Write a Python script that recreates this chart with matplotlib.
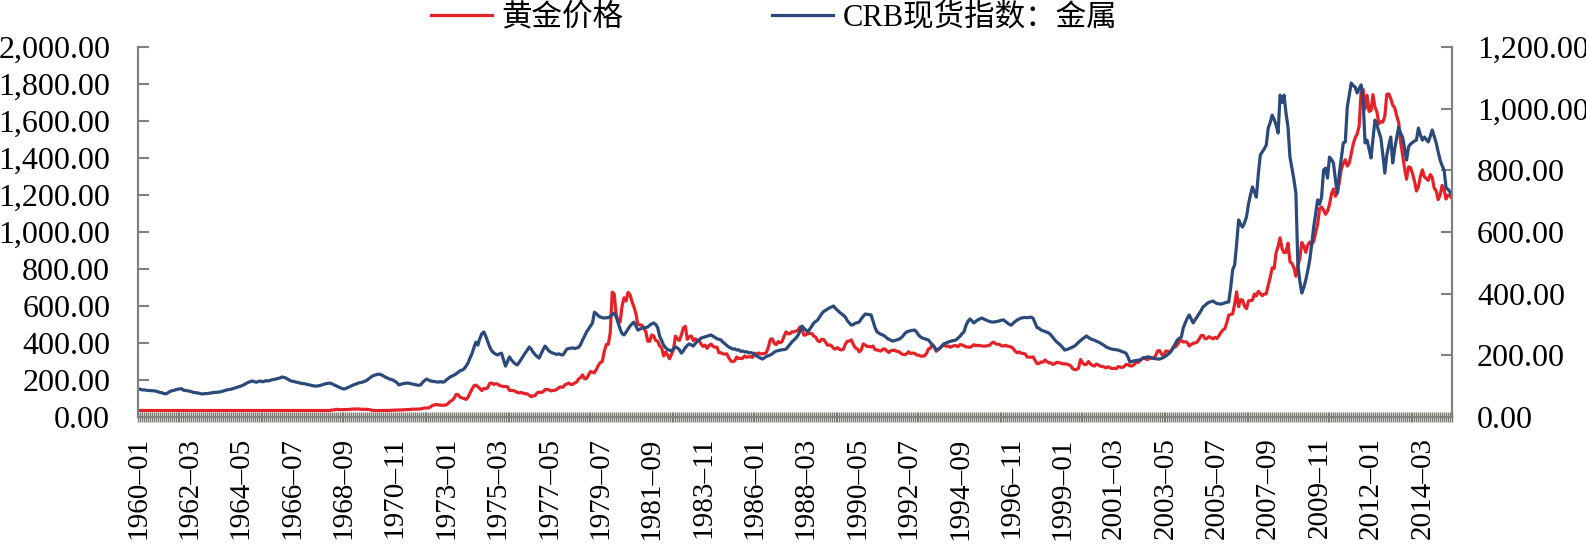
import matplotlib
matplotlib.use("Agg")
import matplotlib.pyplot as plt
import numpy as np
import pandas as pd

# monthly data, 1960-01 .. 2015-06
gold = [
    35.1, 35.1, 35.1, 35.1, 35.1, 35.1, 35.1, 35.2, 35.2, 35.3, 35.3, 35.2,  # 1960
    35.2, 35.2, 35.1, 35.1, 35.1, 35.1, 35.1, 35.1, 35.1, 35.1, 35.1, 35.1,  # 1961
    35.1, 35.1, 35.1, 35.1, 35.1, 35.1, 35.1, 35.1, 35.1, 35.1, 35.1, 35.1,  # 1962
    35.1, 35.1, 35.1, 35.1, 35.1, 35.1, 35.1, 35.1, 35.1, 35.1, 35.1, 35.1,  # 1963
    35.1, 35.1, 35.1, 35.1, 35.1, 35.1, 35.1, 35.1, 35.1, 35.1, 35.1, 35.1,  # 1964
    35.1, 35.1, 35.1, 35.1, 35.1, 35.1, 35.1, 35.1, 35.1, 35.1, 35.1, 35.1,  # 1965
    35.1, 35.1, 35.1, 35.1, 35.1, 35.1, 35.1, 35.1, 35.1, 35.1, 35.1, 35.1,  # 1966
    35.2, 35.2, 35.2, 35.2, 35.2, 35.2, 35.2, 35.2, 35.2, 35.2, 35.2, 35.2,  # 1967
    35.2, 35.2, 37.5, 38.0, 41.0, 41.1, 39.5, 39.2, 39.9, 39.9, 40.2, 41.1,  # 1968
    42.4, 43.0, 43.0, 43.3, 43.5, 41.1, 42.0, 41.5, 41.0, 40.2, 37.4, 35.2,  # 1969
    34.9, 35.0, 35.2, 35.9, 35.5, 35.4, 35.3, 35.4, 36.2, 37.5, 37.4, 37.4,  # 1970
    37.9, 38.7, 38.9, 39.0, 40.5, 40.1, 40.9, 42.7, 42.0, 42.5, 42.9, 43.5,  # 1971
    45.7, 48.3, 48.3, 49.0, 54.6, 62.1, 65.7, 67.0, 65.5, 64.9, 62.9, 63.9,  # 1972
    65.1, 74.2, 84.4, 90.5, 102.0, 122.5, 120.2, 106.8, 103.0, 100.1, 94.8, 106.5,  # 1973
    129.2, 150.2, 168.4, 172.2, 163.9, 154.1, 143.0, 154.6, 151.8, 158.8, 181.7, 183.9,  # 1974
    176.3, 179.6, 178.2, 169.9, 167.4, 164.2, 165.2, 163.1, 144.1, 142.8, 142.9, 139.3,  # 1975
    131.6, 131.0, 132.6, 128.2, 125.9, 125.1, 117.7, 109.3, 114.4, 116.0, 130.6, 133.9,  # 1976
    132.3, 136.4, 148.2, 149.2, 146.6, 140.8, 143.4, 144.6, 149.6, 158.7, 162.1, 160.4,  # 1977
    173.3, 178.2, 183.7, 175.4, 176.3, 183.7, 188.7, 206.3, 212.9, 227.3, 206.1, 207.8,  # 1978
    227.3, 245.7, 242.1, 239.2, 257.6, 279.1, 294.7, 300.8, 355.1, 391.7, 392.5, 455.1,  # 1979
    675.3, 665.3, 553.6, 517.4, 513.8, 600.7, 644.3, 627.0, 673.6, 661.1, 623.5, 594.9,  # 1980
    557.6, 500.0, 498.8, 495.8, 479.7, 460.8, 409.3, 410.1, 443.6, 437.8, 413.4, 410.1,  # 1981
    384.2, 374.1, 330.0, 350.5, 334.7, 314.9, 339.0, 364.8, 436.9, 422.2, 414.0, 444.3,  # 1982
    481.1, 490.4, 419.7, 432.8, 438.2, 413.0, 422.7, 416.2, 411.8, 393.6, 381.7, 388.4,  # 1983
    370.9, 386.1, 394.3, 381.5, 377.6, 377.7, 347.5, 347.7, 341.1, 340.2, 341.2, 320.2,  # 1984
    302.8, 299.1, 304.0, 324.5, 316.7, 316.4, 317.4, 330.1, 323.1, 325.6, 325.3, 322.4,  # 1985
    345.3, 339.1, 346.1, 340.5, 342.5, 342.7, 348.4, 376.1, 418.6, 423.1, 398.5, 391.3,  # 1986
    408.3, 401.0, 408.9, 438.5, 460.2, 449.6, 450.5, 460.9, 460.1, 464.9, 469.2, 486.2,  # 1987
    477.0, 442.6, 443.7, 451.6, 450.9, 451.4, 437.4, 432.3, 412.3, 406.7, 420.1, 418.7,  # 1988
    404.3, 387.8, 390.1, 384.1, 371.0, 367.6, 375.0, 365.4, 361.9, 366.9, 394.3, 409.2,  # 1989
    410.1, 416.8, 393.1, 374.2, 369.0, 352.2, 361.9, 394.8, 389.3, 380.8, 381.9, 378.2,  # 1990
    383.6, 363.8, 363.3, 358.4, 356.8, 366.7, 367.7, 356.5, 348.7, 358.7, 359.8, 361.0,  # 1991
    354.5, 353.9, 344.3, 338.6, 337.2, 340.8, 352.8, 342.9, 345.4, 344.4, 335.0, 334.8,  # 1992
    329.0, 329.4, 330.1, 342.2, 367.2, 371.9, 392.0, 379.8, 355.3, 364.2, 373.8, 383.3,  # 1993
    386.9, 381.9, 384.1, 377.3, 381.4, 385.6, 385.5, 380.3, 391.6, 389.8, 384.4, 379.3,  # 1994
    378.6, 376.5, 382.1, 391.0, 385.2, 387.6, 386.2, 383.7, 383.1, 383.1, 385.9, 387.4,  # 1995
    399.5, 404.8, 396.2, 392.9, 392.0, 385.3, 383.5, 387.5, 383.1, 381.1, 377.9, 369.0,  # 1996
    355.0, 346.6, 351.8, 344.5, 343.8, 340.8, 324.1, 323.9, 322.8, 324.9, 306.0, 288.7,  # 1997
    289.2, 297.5, 295.9, 308.4, 299.1, 292.3, 292.9, 284.1, 288.4, 295.7, 294.0, 291.7,  # 1998
    287.1, 287.3, 285.9, 282.3, 276.9, 261.3, 256.1, 256.7, 264.7, 310.7, 293.2, 283.1,  # 1999
    284.6, 299.9, 286.4, 279.7, 275.1, 285.7, 281.6, 274.5, 273.7, 270.0, 266.0, 271.5,  # 2000
    265.5, 261.9, 263.0, 260.5, 272.4, 270.2, 267.5, 272.4, 283.4, 283.1, 276.2, 275.9,  # 2001
    281.7, 295.5, 294.0, 302.7, 314.5, 321.2, 313.3, 310.3, 319.2, 316.6, 319.2, 332.1,  # 2002
    356.9, 359.0, 340.6, 328.2, 355.7, 356.4, 351.0, 359.8, 379.0, 378.9, 389.9, 407.6,  # 2003
    414.0, 405.3, 406.7, 403.0, 383.8, 392.4, 398.1, 400.5, 405.3, 420.5, 439.4, 441.8,  # 2004
    424.0, 423.4, 434.2, 428.9, 421.9, 430.7, 424.5, 437.9, 456.1, 469.9, 476.7, 509.4,  # 2005
    549.9, 555.0, 557.1, 610.6, 676.5, 596.2, 633.7, 632.6, 598.2, 585.8, 627.8, 629.8,  # 2006
    631.2, 664.8, 654.9, 679.4, 666.9, 655.5, 665.3, 665.4, 712.7, 754.6, 806.3, 803.2,  # 2007
    889.6, 922.3, 968.4, 909.7, 888.7, 889.5, 939.8, 839.0, 829.9, 806.6, 760.9, 816.1,  # 2008
    858.7, 943.2, 924.3, 890.2, 928.7, 945.7, 934.2, 949.4, 996.6, 1043.2, 1127.0, 1134.7,  # 2009
    1118.0, 1095.4, 1113.3, 1148.7, 1205.4, 1232.9, 1193.0, 1215.8, 1271.0, 1342.0, 1369.9, 1390.6,  # 2010
    1356.4, 1372.7, 1424.0, 1473.8, 1510.4, 1528.7, 1572.8, 1755.8, 1771.9, 1665.2, 1739.0, 1652.3,  # 2011
    1656.1, 1742.6, 1673.8, 1650.1, 1585.5, 1596.7, 1593.9, 1626.0, 1744.5, 1746.6, 1721.6, 1684.8,  # 2012
    1671.9, 1627.6, 1593.1, 1487.9, 1414.0, 1343.4, 1285.5, 1351.7, 1348.6, 1316.6, 1275.9, 1221.5,  # 2013
    1244.3, 1299.6, 1336.1, 1298.5, 1288.7, 1279.1, 1310.6, 1295.1, 1236.6, 1222.5, 1175.3, 1200.6,  # 2014
    1251.8, 1227.1, 1178.6, 1198.9, 1198.6, 1181.5,  # 2015
]

crb_metals = [
    92, 90, 88, 88, 87, 86, 86, 85, 85, 84, 82, 80,  # 1960
    79, 76, 75, 78, 82, 85, 86, 88, 90, 91, 92, 87,  # 1961
    86, 85, 84, 82, 80, 79, 78, 77, 75, 75, 76, 76,  # 1962
    77, 78, 79, 80, 80, 81, 82, 84, 86, 88, 89, 90,  # 1963
    92, 94, 96, 98, 100, 103, 106, 110, 113, 115, 117, 114,  # 1964
    113, 115, 117, 114, 116, 118, 117, 119, 121, 122, 124, 125,  # 1965
    127, 130, 128, 126, 122, 118, 116, 115, 113, 112, 110, 109,  # 1966
    108, 107, 105, 104, 102, 101, 100, 101, 102, 104, 106, 108,  # 1967
    109, 110, 108, 105, 102, 99, 96, 93, 91, 92, 95, 98,  # 1968
    101, 104, 106, 109, 111, 112, 114, 116, 120, 125, 130, 134,  # 1969
    136, 138, 139, 137, 134, 130, 127, 124, 122, 120, 116, 112,  # 1970
    104, 106, 108, 109, 110, 110, 108, 107, 105, 104, 103, 104,  # 1971
    112, 118, 123, 120, 117, 116, 115, 114, 113, 115, 113, 114,  # 1972
    120, 125, 130, 133, 136, 140, 145, 150, 152, 156, 165, 175,  # 1973
    191, 205, 225, 243, 233, 255, 270, 276, 262, 245, 227, 215,  # 1974
    208, 204, 201, 205, 207, 185, 165, 180, 195, 185, 178, 172,  # 1975
    169, 178, 188, 198, 208, 217, 227, 220, 210, 202, 196, 191,  # 1976
    205, 218, 230, 222, 214, 210, 207, 205, 203, 205, 202, 201,  # 1977
    210, 220, 222, 223, 224, 222, 224, 226, 235, 250, 262, 276,  # 1978
    285, 295, 305, 340, 335, 328, 324, 322, 321, 322, 322, 326,  # 1979
    332, 337, 325, 305, 285, 270, 266, 275, 285, 295, 302, 308,  # 1980
    295, 282, 285, 288, 290, 290, 292, 298, 302, 305, 300, 290,  # 1981
    262, 248, 233, 225, 218, 217, 214, 222, 227, 224, 218, 207,  # 1982
    215, 225, 232, 237, 234, 230, 238, 245, 250, 256, 258, 260,  # 1983
    262, 264, 266, 262, 258, 254, 252, 250, 243, 238, 232, 227,  # 1984
    224, 220, 221, 217, 218, 213, 214, 211, 212, 208, 209, 207,  # 1985
    203, 198, 195, 191, 188, 192, 196, 199, 201, 205, 210, 214,  # 1986
    215, 217, 218, 219, 220, 228, 236, 244, 250, 256, 265, 278,  # 1987
    295, 288, 282, 276, 285, 295, 305, 310, 315, 325, 335, 342,  # 1988
    346, 350, 354, 357, 360, 352, 346, 340, 335, 330, 324, 312,  # 1989
    305, 298, 300, 304, 306, 308, 318, 326, 334, 333, 332, 331,  # 1990
    310, 290, 276, 272, 268, 266, 262, 256, 252, 249, 246, 248,  # 1991
    250, 252, 256, 262, 270, 276, 278, 280, 281, 282, 276, 266,  # 1992
    260, 256, 254, 252, 250, 242, 234, 226, 217, 220, 224, 232,  # 1993
    238, 240, 243, 245, 247, 248, 250, 256, 262, 270, 276, 296,  # 1994
    310, 318, 312, 305, 310, 315, 318, 321, 318, 315, 312, 310,  # 1995
    308, 308, 309, 310, 312, 314, 315, 310, 305, 300, 298, 305,  # 1996
    310, 315, 318, 321, 322, 323, 322, 323, 324, 320, 305, 290,  # 1997
    288, 282, 280, 277, 275, 272, 266, 258, 250, 243, 238, 232,  # 1998
    225, 217, 219, 221, 224, 227, 230, 236, 242, 248, 253, 258,  # 1999
    263, 258, 254, 251, 249, 246, 243, 240, 236, 232, 227, 224,  # 2000
    222, 220, 219, 218, 217, 215, 212, 210, 207, 195, 178, 180,  # 2001
    182, 183, 184, 185, 188, 191, 193, 195, 194, 192, 190, 189,  # 2002
    188, 188, 190, 193, 197, 202, 207, 215, 225, 238, 250, 255,  # 2003
    259, 289, 305, 320, 331, 318, 305, 315, 325, 335, 345, 357,  # 2004
    362, 368, 372, 374, 376, 372, 368, 367, 366, 368, 370, 372,  # 2005
    373, 420, 477, 493, 560, 639, 625, 616, 630, 649, 690, 720,  # 2006
    746, 730, 713, 790, 850, 860, 870, 882, 937, 955, 979, 965,  # 2007
    947, 921, 1044, 1020, 1044, 985, 940, 843, 807, 770, 726, 493,  # 2008
    440, 402, 420, 444, 475, 509, 560, 616, 660, 704, 690, 713,  # 2009
    801, 807, 775, 843, 835, 824, 770, 726, 791, 840, 889, 892,  # 2010
    1005, 1045, 1083, 1075, 1070, 1051, 1065, 1077, 1028, 889, 898, 870,  # 2011
    840, 900, 963, 947, 925, 905, 850, 791, 850, 880, 908, 824,  # 2012
    870, 905, 940, 920, 908, 870, 833, 876, 885, 890, 895, 898,  # 2013
    937, 915, 898, 908, 900, 892, 910, 931, 910, 889, 860, 833,  # 2014
    815, 801, 743, 738, 730, 720,  # 2015
]

n = len(gold)
months = pd.date_range("1960-01-01", periods=n, freq="MS")
labels = [f"{d.year}–{d.month:02d}" for d in months]
x = np.arange(n)

RED = "#e52227"
BLUE = "#2b4a7b"
GRAY = "#808080"
plt.rcParams["font.family"] = ["Liberation Serif", "Noto Sans CJK SC", "DejaVu Sans"]
plt.rcParams["font.size"] = 23

W, H = 1586, 545
fig = plt.figure(figsize=(W / 100, H / 100), dpi=100)
ax = fig.add_axes([138 / W, 1 - 417 / H, (1452 - 138) / W, (417 - 47) / H])
ax2 = ax.twinx()

l1, = ax.plot(x, gold, color=RED, lw=2.3, label="黄金价格")
l2, = ax2.plot(x, crb_metals, color=BLUE, lw=2.3, label="CRB现货指数：金属")

ax.set_xlim(0, n - 1)
ax.set_ylim(0, 2000)
ax2.set_ylim(0, 1200)
ax.set_yticks(np.arange(0, 2001, 200))
ax2.set_yticks(np.arange(0, 1201, 200))
fmt = matplotlib.ticker.FuncFormatter(lambda v, p: f"{v:,.2f}")
ax.yaxis.set_major_formatter(fmt)
ax2.yaxis.set_major_formatter(fmt)

major = x[::26]
ax.set_xticks(major)
ax.set_xticklabels([labels[i] for i in major], rotation=90)
ax.set_xticks(x, minor=True)

for a in (ax, ax2):
    a.spines["top"].set_visible(False)
    for s in ("left", "right", "bottom"):
        a.spines[s].set_color(GRAY)
        a.spines[s].set_linewidth(1.5)

ax.tick_params(axis="y", direction="in", length=8, width=1.5, color=GRAY, pad=20, labelsize=23)
ax2.tick_params(axis="y", direction="in", length=8, width=1.5, color=GRAY, pad=18, labelsize=23)
ax.tick_params(axis="x", which="both", direction="inout", length=7, width=1.0, color="#7a7a72")
ax.tick_params(axis="x", which="major", pad=11, labelsize=21)

fig.legend(handles=[l1, l2], loc="center", bbox_to_anchor=(0.4882, 1 - 18 / H), ncol=2,
           frameon=False, fontsize=22, handlelength=2.0, handletextpad=0.3,
           columnspacing=4.87, borderpad=0)

fig.savefig("out.png", dpi=100)
